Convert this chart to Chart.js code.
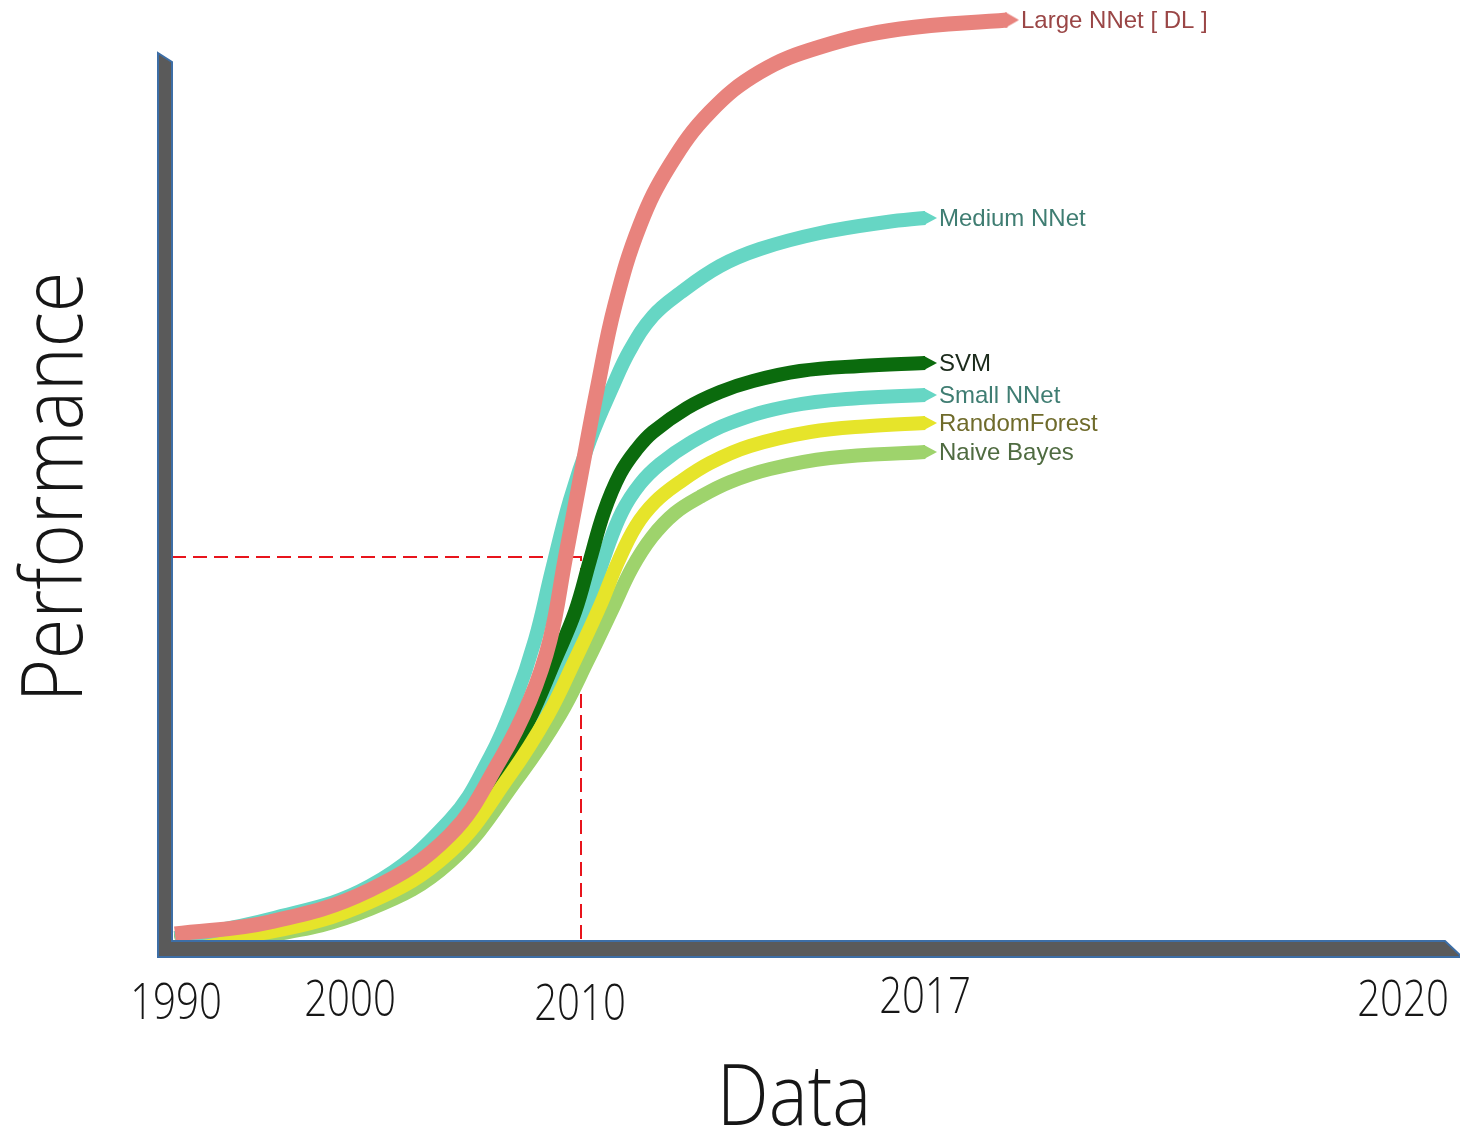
<!DOCTYPE html>
<html>
<head>
<meta charset="utf-8">
<title>Performance vs Data</title>
<script src="https://cdn.jsdelivr.net/npm/chart.js@4.4.1/dist/chart.umd.min.js"></script>
<style>
  html, body { margin: 0; padding: 0; background: #ffffff; }
  #wrap { width: 1460px; height: 1135px; }
</style>
</head>
<body>
<div id="wrap"><canvas id="chart" width="1460" height="1135"></canvas></div>
<script>
// ---- data (x: amount of data, y: performance; arbitrary units) ----
const seriesNames = ['Large NNet [ DL ]', 'Medium NNet', 'SVM', 'RandomForest', 'Small NNet', 'Naive Bayes'];

const largeX  = [0.3, 9.8, 19.8, 27.8, 32.8, 35.8, 37.8, 39.3, 40.8, 42.5, 44.3, 46.8, 49.8, 53.8, 58.8, 64.8, 72.8, 83.5];
const largeY  = [0.6, 1.8, 5.0, 10.5, 18.0, 24.0, 30.0, 38.0, 46.0, 55.0, 63.5, 71.5, 77.5, 82.8, 86.8, 89.3, 91.1, 92.0];

const mediumX = [0.3, 9.8, 19.8, 27.8, 31.8, 34.3, 36.3, 38.0, 39.8, 41.8, 44.0, 45.8, 48.1, 50.8, 54.8, 58.8, 64.8, 71.5, 75.3];
const mediumY = [0.2, 2.1, 5.4, 12.0, 18.3, 24.0, 30.0, 37.0, 44.0, 50.0, 55.2, 59.0, 62.4, 64.7, 67.4, 69.1, 70.7, 71.8, 72.2];

const svmX    = [0.3, 9.8, 19.8, 27.8, 32.8, 35.8, 38.3, 40.3, 41.8, 43.2, 44.8, 46.5, 48.1, 51.5, 54.8, 58.1, 62.8, 68.8, 75.3];
const svmY    = [0.0, 1.1, 4.3, 9.5, 16.5, 22.2, 28.0, 32.8, 38.0, 42.8, 46.6, 49.1, 50.8, 53.2, 54.8, 55.9, 56.9, 57.4, 57.7];

const forestX = [0.3, 9.8, 19.8, 27.8, 33.8, 37.6, 40.3, 42.8, 44.6, 46.4, 48.3, 50.8, 53.8, 57.8, 63.8, 69.8, 75.3];
const forestY = [0.0, 0.8, 3.8, 8.8, 16.5, 22.5, 28.0, 33.4, 37.8, 41.4, 43.8, 45.8, 47.7, 49.4, 50.8, 51.4, 51.7];

const smallX  = [0.3, 9.8, 19.8, 27.8, 33.3, 36.8, 39.3, 41.8, 43.4, 45.0, 46.8, 48.8, 51.8, 55.8, 61.8, 68.8, 75.3];
const smallY  = [0.0, 0.9, 4.0, 9.0, 16.5, 22.5, 28.0, 34.0, 38.8, 42.8, 45.6, 47.6, 49.7, 51.7, 53.4, 54.2, 54.5];

const bayesX  = [0.3, 9.8, 19.8, 27.8, 34.8, 38.8, 41.6, 44.0, 46.0, 48.0, 50.3, 52.8, 55.8, 59.8, 65.8, 75.3];
const bayesY  = [0.0, 0.5, 3.1, 7.8, 16.5, 22.5, 28.0, 33.0, 37.2, 40.3, 42.7, 44.3, 45.8, 47.1, 48.2, 48.8];

// year labels along the data axis
const tickValues = [0.4, 17.8, 40.8, 75.3, 123.1];
const tickLabels = ['1990', '2000', '2010', '2017', '2020'];

// dashed guide at the 2010 crossover
const guideX = 40.9;
const guideY = 38.3;

// ---- styling ----
const lineColors  = ['#e8837d', '#66d6c4', '#0b6b0d', '#e6e42a', '#66d6c4', '#9ed36c'];
const labelColors = ['#9a4646', '#3f7d72', '#1b2a1b', '#6f6b2b', '#3f7d72', '#4f6b41'];
const lineWidths  = [15, 14, 14, 14, 14, 14];
const drawOrder   = [0, 1, 3, 2, 4, 5];   // lower value is painted on top
const tickLift    = [0, 3, -1, 6, 3];

function arrowHead(color, w) {
  const c = document.createElement('canvas');
  c.width = 26;
  c.height = w + 2;
  const g = c.getContext('2d');
  g.fillStyle = color;
  g.beginPath();
  g.moveTo(12, 1);
  g.lineTo(25, (w + 2) / 2);
  g.lineTo(12, w + 1);
  g.closePath();
  g.fill();
  g.fillRect(11, 1, 2, w);
  return c;
}

function toPoints(xs, ys) {
  return xs.map((x, i) => ({ x: x, y: ys[i] }));
}

const seriesX = [largeX, mediumX, svmX, forestX, smallX, bayesX];
const seriesY = [largeY, mediumY, svmY, forestY, smallY, bayesY];

const datasets = seriesNames.map((name, i) => {
  const n = seriesX[i].length;
  return {
    label: name,
    data: toPoints(seriesX[i], seriesY[i]),
    order: drawOrder[i],
    borderColor: lineColors[i],
    backgroundColor: lineColors[i],
    borderWidth: lineWidths[i],
    borderCapStyle: 'butt',
    borderJoinStyle: 'round',
    tension: 0.4,
    fill: false,
    clip: false,
    pointStyle: arrowHead(lineColors[i], lineWidths[i]),
    pointRadius: (ctx) => (ctx.dataIndex === n - 1 ? 8 : 0),
    pointBorderWidth: 0
  };
});

datasets.push({
  label: 'guide',
  data: [{ x: 0, y: guideY }, { x: guideX, y: guideY }, { x: guideX, y: 0 }],
  order: 10,
  borderColor: '#e8141c',
  borderWidth: 2,
  borderDash: [14, 7],
  tension: 0,
  pointRadius: 0,
  fill: false,
  clip: false
});

// axis bars, year labels, axis titles and end-of-line labels
const decorations = {
  id: 'decorations',
  afterDatasetsDraw(chart) {
    const ctx = chart.ctx;
    const a = chart.chartArea;
    const xs = chart.scales.x;
    const W = chart.width;

    // L-shaped axis bar with slanted ends
    ctx.save();
    ctx.beginPath();
    ctx.moveTo(a.left - 14, 53);
    ctx.lineTo(a.left, 62);
    ctx.lineTo(a.left, a.bottom + 1);
    ctx.lineTo(W - 15, a.bottom + 1);
    ctx.lineTo(W, a.bottom + 15);
    ctx.lineTo(W, a.bottom + 17);
    ctx.lineTo(a.left - 14, a.bottom + 17);
    ctx.closePath();
    ctx.fillStyle = '#5a5a5a';
    ctx.fill();
    ctx.lineWidth = 2;
    ctx.strokeStyle = '#3d6ea6';
    ctx.stroke();
    ctx.restore();

    // year labels
    ctx.save();
    ctx.fillStyle = '#161616';
    ctx.font = '300 49px "Open Sans", "Noto Sans", sans-serif';
    ctx.textAlign = 'center';
    ctx.textBaseline = 'alphabetic';
    tickValues.forEach((v, i) => {
      const px = xs.getPixelForValue(v);
      ctx.save();
      ctx.translate(px, a.bottom + 79 - tickLift[i]);
      ctx.scale(0.82, 1);
      ctx.fillText(tickLabels[i], 0, 0);
      ctx.restore();
    });

    // axis titles
    ctx.font = '300 84px "Open Sans", "Noto Sans", sans-serif';
    ctx.save();
    ctx.translate(794, 1125);
    ctx.scale(0.875, 1);
    ctx.fillText('Data', 0, 0);
    ctx.restore();

    ctx.save();
    ctx.translate(82, 487);
    ctx.rotate(-Math.PI / 2);
    ctx.scale(0.88, 1);
    ctx.fillText('Performance', 0, 0);
    ctx.restore();
    ctx.restore();

    // series names at the arrow tips
    ctx.save();
    ctx.font = '24px "Liberation Sans", Arial, sans-serif';
    ctx.textAlign = 'left';
    ctx.textBaseline = 'middle';
    seriesNames.forEach((name, i) => {
      const meta = chart.getDatasetMeta(i);
      const last = meta.data[meta.data.length - 1];
      ctx.fillStyle = labelColors[i];
      ctx.fillText(name, last.x + 14, last.y + 1);
    });
    ctx.restore();
  }
};

new Chart(document.getElementById('chart'), {
  type: 'line',
  data: { datasets: datasets },
  options: {
    responsive: false,
    animation: false,
    devicePixelRatio: 1,
    events: [],
    layout: { autoPadding: false, padding: { left: 172, right: 8, top: 0, bottom: 195 } },
    plugins: { legend: { display: false }, tooltip: { enabled: false } },
    scales: {
      x: { type: 'linear', min: 0, max: 128, display: false },
      y: { type: 'linear', min: 0, max: 94, display: false }
    }
  },
  plugins: [decorations]
});
</script>
</body>
</html>
